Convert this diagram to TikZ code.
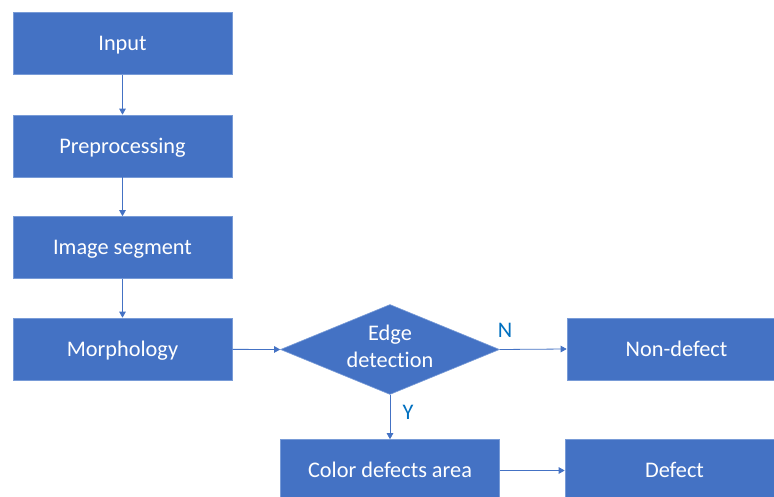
\documentclass[tikz,border=0pt]{standalone}
\usepackage{fontspec}
\setmainfont{Carlito}[Ligatures={NoCommon,NoRare}]
\usetikzlibrary{arrows.meta,shapes.geometric}
\definecolor{boxblue}{RGB}{68,114,196}
\definecolor{edgeblue}{RGB}{120,155,215}
\definecolor{lblblue}{RGB}{0,112,192}
\tikzset{
  stepbox/.style={rectangle,fill=boxblue,draw=edgeblue,line width=0.6pt,minimum width=219pt,minimum height=62pt,inner sep=0pt,text=white,text height=14.4pt,text depth=0pt,font=\fontsize{22.3}{27}\selectfont},
  decision/.style={diamond,aspect=2.43,fill=boxblue,draw=edgeblue,line width=0.6pt,inner sep=0pt,text=white,align=center,font=\fontsize{22.3}{27}\selectfont},
  conn/.style={draw=boxblue,line width=0.8pt,-{Triangle[length=6pt,width=6.5pt]}},
  lbl/.style={text=lblblue,font=\fontsize{22.3}{27}\selectfont}
}
\begin{document}
\begin{tikzpicture}[x=1pt,y=-1pt]
\useasboundingbox (0,0) rectangle (774,497);
\clip (0,0) rectangle (774,497);
\fill[white] (0,0) rectangle (774,497);
\node[stepbox] (input) at (122.5,43.5) {Input};
\node[stepbox] (pre) at (122.5,146) {Preprocessing};
\node[stepbox] (seg) at (122.5,247.5) {Image segment};
\node[stepbox] (morph) at (122.5,349) {Morphology};
\node[decision,minimum width=219pt,minimum height=90pt] (edge) at (390,349.5) {};
\node[text=white,align=center,font=\fontsize{22.3}{27}\selectfont] (edgetxt) at (390,346) {Edge\\detection};
\node[stepbox] (non) at (676.5,349) {Non-defect};
\node[stepbox] (color) at (390,470.5) {Color defects area};
\node[stepbox] (defect) at (674.5,470.5) {Defect};
\draw[conn] (input) -- (pre);
\draw[conn] (pre) -- (seg);
\draw[conn] (seg) -- (morph);
\draw[conn] (morph) -- (edge.west);
\draw[conn] (edge.east) -- (non.west);
\draw[conn] (edge.south) -- (color.north);
\draw[conn] (color) -- (defect);
\node[lbl] (nlbl) at (505,330) {N};
\node[lbl] (ylbl) at (408,412) {Y};
\end{tikzpicture}
\end{document}
